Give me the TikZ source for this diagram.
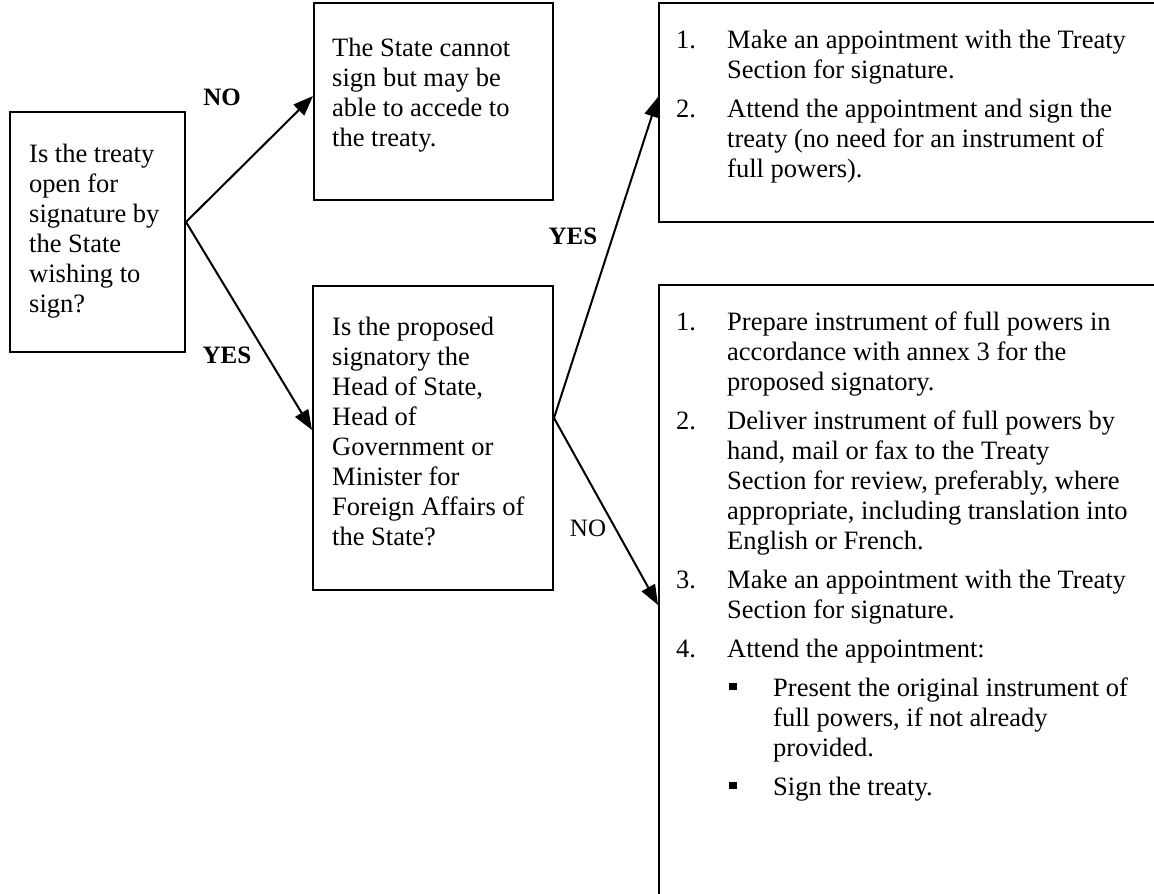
\documentclass[tikz,border=0pt]{standalone}
\usepackage{fontspec}
\setmainfont{Liberation Serif}
\usetikzlibrary{positioning,arrows.meta}
\newcommand{\itemnum}[1]{\makebox[51pt][l]{#1}}
\newcommand{\contind}{\hspace*{51pt}}
\newcommand{\bulitem}{\hspace*{53pt}\makebox[44pt][l]{\rule[6pt]{8pt}{7pt}}}
\newcommand{\bulind}{\hspace*{97pt}}
\begin{document}
\begin{tikzpicture}[x=1pt,y=-1pt]
	\tikzset{bx/.style={rectangle, draw=black, line width=2pt, inner sep=0pt},
		txt/.style={inner sep=0pt, align=left, font=\fontsize{26.5}{30}\selectfont},
		lbl/.style={inner sep=0pt, font=\fontsize{25}{25}\selectfont\bfseries},
		arr/.style={line width=2pt, -{Triangle[length=20pt,width=15pt]}}};

	\useasboundingbox (0,0) rectangle (1154,894);
	\clip (0,0) rectangle (1154,894);

	\node[bx, minimum width=175pt, minimum height=240pt] (open) at (97.5,232) {};
	\node[bx, minimum width=239pt, minimum height=197pt] (cannot) at (433.5,101.5) {};
	\node[bx, minimum width=240pt, minimum height=304pt] (head) at (433,438) {};
	\node[bx, minimum width=530pt, minimum height=219pt] (sign) at (924,112.5) {};
	\node[bx, minimum width=530pt, minimum height=675pt] (powers) at (924,622.5) {};

	\node[txt, below right=33pt and 20pt of open.north west] (opent) {Is the treaty\\open for\\signature by\\the State\\wishing to\\sign?};
	\node[txt, below right=35.5pt and 19pt of cannot.north west] (cannott) {The State cannot\\sign but may be\\able to accede to\\the treaty.};
	\node[txt, below right=31.5pt and 20pt of head.north west] (headt) {Is the proposed\\signatory the\\Head of State,\\Head of\\Government or\\Minister for\\Foreign Affairs of\\the State?};
	\node[txt, below right=27.5pt and 18pt of sign.north west] (signt) {\itemnum{1.}Make an appointment with the Treaty\\
		\contind Section for signature.\\[9pt]
		\itemnum{2.}Attend the appointment and sign the\\
		\contind treaty (no need for an instrument of\\
		\contind full powers).};
	\node[txt, below right=27.5pt and 18pt of powers.north west] (powerst) {\itemnum{1.}Prepare instrument of full powers in\\
		\contind accordance with annex 3 for the\\
		\contind proposed signatory.\\[9pt]
		\itemnum{2.}Deliver instrument of full powers by\\
		\contind hand, mail or fax to the Treaty\\
		\contind Section for review, preferably, where\\
		\contind appropriate, including translation into\\
		\contind English or French.\\[9pt]
		\itemnum{3.}Make an appointment with the Treaty\\
		\contind Section for signature.\\[9pt]
		\itemnum{4.}Attend the appointment:\\[9pt]
		\bulitem Present the original instrument of\\
		\bulind full powers, if not already\\
		\bulind provided.\\[9pt]
		\bulitem Sign the treaty.};

	\coordinate (openo) at ([yshift=10pt]open.east);
	\coordinate (cannoti) at ([yshift=5.5pt]cannot.west);
	\coordinate (headi) at ([yshift=8pt]head.west);
	\coordinate (heado) at ([yshift=20pt]head.east);
	\coordinate (signi) at ([yshift=15.5pt]sign.west);
	\coordinate (powersi) at ([yshift=17.5pt]powers.west);

	\draw[arr] (openo) to (cannoti);
	\draw[arr] (openo) to (headi);
	\draw[arr] (heado) to (signi);
	\draw[arr] (heado) to (powersi);

	\node[lbl] (no1) at (222,97) {NO};
	\node[lbl] (yes1) at (227,355) {YES};
	\node[lbl] (yes2) at (573,236) {YES};
	\node[lbl, font=\fontsize{25}{25}\selectfont] (no2) at (588,528) {NO};

\end{tikzpicture}
\end{document}
